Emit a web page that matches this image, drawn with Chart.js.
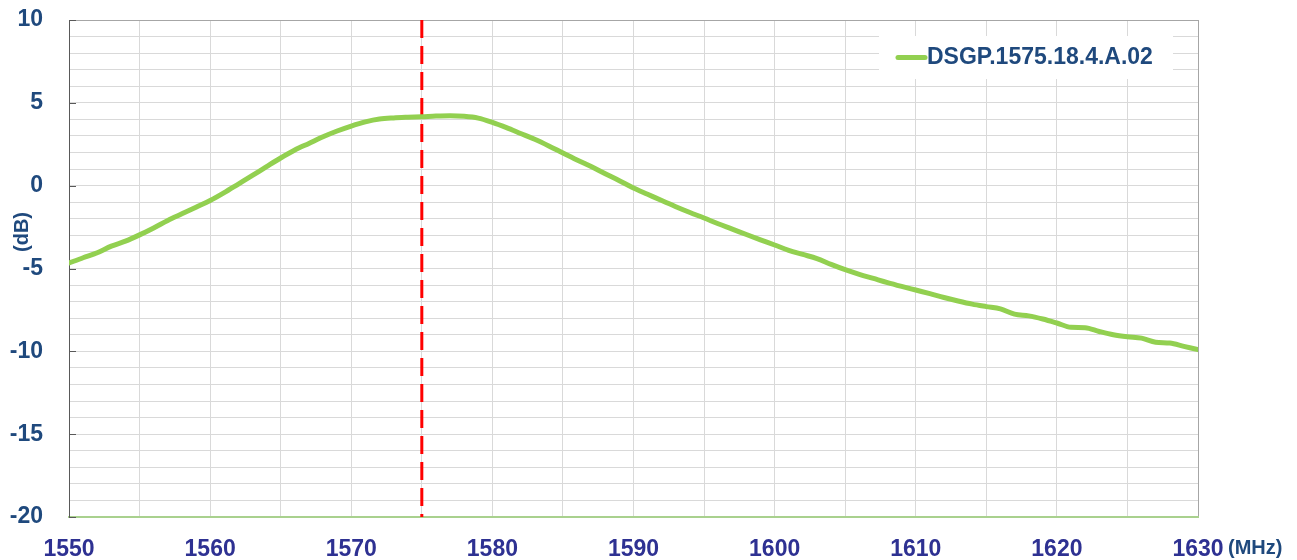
<!DOCTYPE html>
<html>
<head>
<meta charset="utf-8">
<script src="https://cdn.jsdelivr.net/npm/chart.js@4/dist/chart.umd.min.js"></script>
<style>
  html, body { margin: 0; padding: 0; background: #fff; overflow: hidden; }
  canvas { display: block; }
</style>
</head>
<body>
<canvas id="grafico" width="1297" height="560"></canvas>
<script>
// frequencia (MHz) e ganho (dB)
const freqs = [1550, 1551, 1552, 1553, 1554, 1555, 1556, 1557, 1558, 1559,
               1560, 1561, 1562, 1563, 1564, 1565, 1566, 1567, 1568, 1569,
               1570, 1571, 1572, 1573, 1574, 1575, 1576, 1577, 1578, 1579,
               1580, 1581, 1582, 1583, 1584, 1585, 1586, 1587, 1588, 1589,
               1590, 1591, 1592, 1593, 1594, 1595, 1596, 1597, 1598, 1599,
               1600, 1601, 1602, 1603, 1604, 1605, 1606, 1607, 1608, 1609,
               1610, 1611, 1612, 1613, 1614, 1615, 1616, 1617, 1618, 1619,
               1620, 1621, 1622, 1623, 1624, 1625, 1626, 1627, 1628, 1629, 1630];
const ganho = [-4.67, -4.35, -4.05, -3.65, -3.35, -2.97, -2.55, -2.1, -1.7, -1.3,
               -0.9, -0.42, 0.1, 0.62, 1.15, 1.67, 2.15, 2.55, 2.95, 3.3,
               3.6, 3.85, 4.02, 4.09, 4.13, 4.16, 4.2, 4.22, 4.19, 4.08,
               3.82, 3.5, 3.15, 2.8, 2.4, 1.97, 1.55, 1.15, 0.72, 0.3,
               -0.14, -0.52, -0.9, -1.27, -1.62, -1.95, -2.3, -2.62, -2.95, -3.27,
               -3.58, -3.9, -4.15, -4.4, -4.75, -5.07, -5.35, -5.6, -5.85, -6.08,
               -6.3, -6.52, -6.75, -6.96, -7.15, -7.3, -7.44, -7.75, -7.86, -8.05,
               -8.29, -8.55, -8.57, -8.8, -9.0, -9.12, -9.2, -9.45, -9.5, -9.7, -9.9];
const nomeSerie = 'DSGP.1575.18.4.A.02';
const freqCentral = 1575;
const xMin = 1550, xMax = 1630;
const yMin = -20, yMax = 10;

const azulY = '#1F497D';
const azulX = '#2E3192';
const verde = '#92D050';
const fonte = '"Liberation Sans", Arial, sans-serif';

// textos extras, eixo y tick marks e legenda
const extras = {
    id: 'extras',
    afterDraw(chart) {
        const c = chart.ctx;
        const a = chart.chartArea;
        const ys = chart.scales.y;
        c.save();
        // pequenos ticks no eixo y
        c.strokeStyle = '#595959';
        c.lineWidth = 1;
        for (let v = yMin; v <= yMax; v += 5) {
            const p = Math.round(ys.getPixelForValue(v)) + 0.5;
            c.beginPath();
            c.moveTo(a.left, p);
            c.lineTo(a.left + 7, p);
            c.stroke();
        }
        // (dB)
        c.fillStyle = azulY;
        c.font = 'bold 20px ' + fonte;
        c.textAlign = 'center';
        c.textBaseline = 'middle';
        c.translate(22, 232);
        c.rotate(-Math.PI / 2);
        c.fillText('(dB)', 0, 0);
        c.restore();

        c.save();
        c.fillStyle = azulY;
        c.font = 'bold 20px ' + fonte;
        c.textAlign = 'left';
        c.textBaseline = 'middle';
        c.fillText('(MHz)', 1228, 548);

        // legenda
        c.fillStyle = '#fff';
        c.fillRect(879, 36, 294, 43);
        c.strokeStyle = verde;
        c.lineWidth = 5;
        c.lineCap = 'round';
        c.beginPath();
        c.moveTo(898, 57.5);
        c.lineTo(925, 57.5);
        c.stroke();
        c.fillStyle = azulY;
        c.font = 'bold 23px ' + fonte;
        c.fillText(nomeSerie, 927, 58);
        c.restore();
    }
};

const ctx = document.getElementById('grafico').getContext('2d');
window.myChart = new Chart(ctx, {
    type: 'line',
    data: {
        datasets: [{
            label: nomeSerie,
            data: freqs.map((f, i) => ({x: f, y: ganho[i]})),
            borderColor: verde,
            borderWidth: 5,
            pointRadius: 0,
            tension: 0.4,
            cubicInterpolationMode: 'monotone',
            borderCapStyle: 'round'
        }, {
            label: 'central',
            data: [{x: freqCentral, y: yMax}, {x: freqCentral, y: yMin}],
            borderColor: '#FF0000',
            borderWidth: 3,
            borderDash: [18, 8],
            pointRadius: 0
        }]
    },
    options: {
        responsive: false,
        animation: false,
        devicePixelRatio: 1,
        layout: { padding: { top: 20, right: 99, left: 0, bottom: 0 } },
        plugins: {
            legend: { display: false },
            tooltip: { enabled: false }
        },
        scales: {
            x: {
                type: 'linear',
                min: xMin, max: xMax,
                afterFit: s => { s.height = 43; s.paddingLeft = 0; s.paddingRight = 0; },
                border: { color: '#A9D18E', width: 2 },
                grid: {
                    color: c => c.tick.value === xMax ? '#A6A6A6' : '#D9D9D9',
                    drawTicks: false
                },
                ticks: {
                    stepSize: 5,
                    padding: 19,
                    autoSkip: false,
                    maxRotation: 0,
                    color: azulX,
                    font: { family: fonte, size: 23, weight: 'bold' },
                    callback: v => v % 10 === 0 ? String(v) : ''
                }
            },
            y: {
                min: yMin, max: yMax,
                afterFit: s => { s.width = 69; s.paddingTop = 0; s.paddingBottom = 0; },
                border: { color: '#595959', width: 1 },
                grid: {
                    color: c => c.tick.value === yMax ? '#A6A6A6' : '#D9D9D9',
                    drawTicks: false
                },
                ticks: {
                    stepSize: 1,
                    padding: 26,
                    autoSkip: false,
                    color: azulY,
                    font: { family: fonte, size: 23, weight: 'bold' },
                    callback: v => v % 5 === 0 ? String(v) : ''
                }
            }
        }
    },
    plugins: [extras]
});
</script>
</body>
</html>
